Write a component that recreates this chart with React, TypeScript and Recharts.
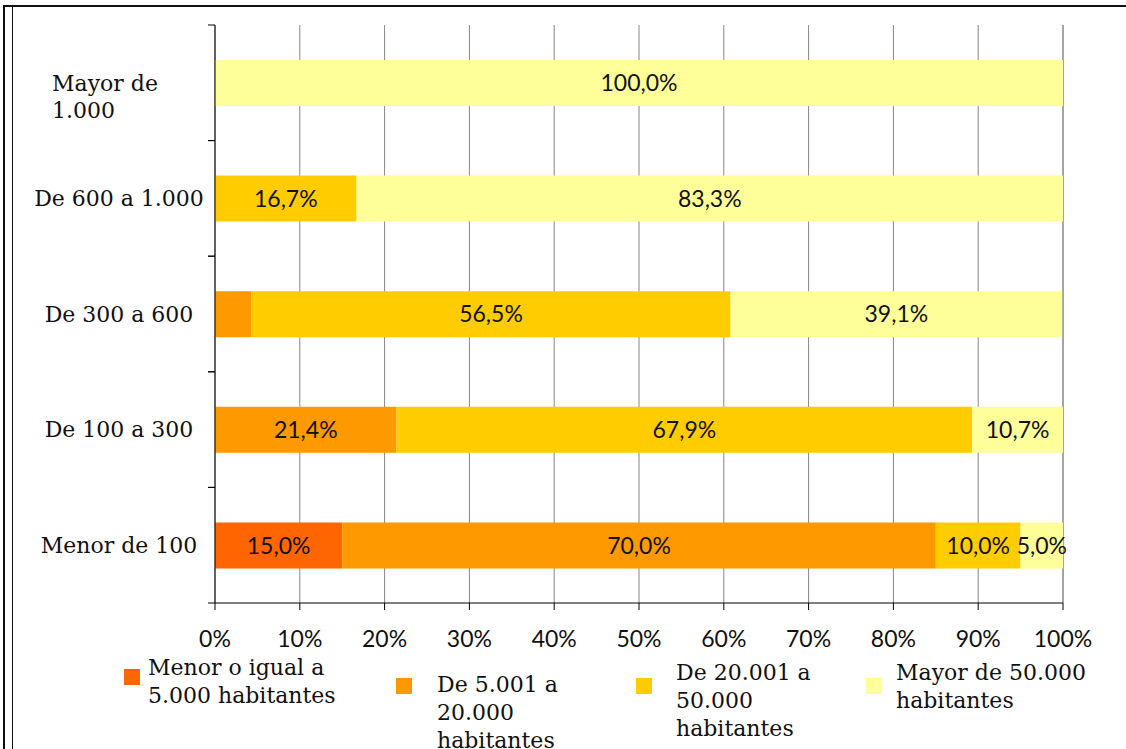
import React from 'react'
import { BarChart, Bar, XAxis, YAxis, CartesianGrid, LabelList, Legend } from 'recharts'

// Municipalities by density band (rows) split by population size (series), in %
const categories = ['Mayor de\n1.000', 'De 600 a 1.000', 'De 300 a 600', 'De 100 a 300', 'Menor de 100']
const menor5000 = [0, 0, 0, 0, 15.0]
const de5001a20000 = [0, 0, 4.3, 21.4, 70.0]
const de20001a50000 = [0, 16.7, 56.5, 67.9, 10.0]
const mayor50000 = [100.0, 83.3, 39.1, 10.7, 5.0]

const seriesKeys = ['menor5000', 'de5001a20000', 'de20001a50000', 'mayor50000']
const seriesNames = [
  'Menor o igual a 5.000 habitantes',
  'De 5.001 a 20.000 habitantes',
  'De 20.001 a 50.000 habitantes',
  'Mayor de 50.000 habitantes',
]
const legendLabels = [
  'Menor o igual a\n5.000 habitantes',
  'De 5.001 a\n20.000\nhabitantes',
  'De 20.001 a\n50.000\nhabitantes',
  'Mayor de 50.000\nhabitantes',
]
const colors = ['#FF6600', '#FF9900', '#FFCC00', '#FFFF99']
const xTicks = [0, 10, 20, 30, 40, 50, 60, 70, 80, 90, 100]

const data = categories.map((name, i) => ({
  name,
  menor5000: menor5000[i],
  de5001a20000: de5001a20000[i],
  de20001a50000: de20001a50000[i],
  mayor50000: mayor50000[i],
}))

const W = 1126
const H = 749
const MARGIN = { top: 25, right: 63, left: 0, bottom: 101 }
const X_AXIS_H = 45
const Y_AXIS_W = 215
const BAND = (H - MARGIN.top - MARGIN.bottom - X_AXIS_H) / categories.length

const serif = '"DejaVu Serif", serif'
const sans = 'Lato, "Open Sans", sans-serif'

// legend boxes are laid out by hand, the way the spreadsheet placed them
const legendPos = [
  { sx: 124, sy: 669, tx: 148, ty: 654 },
  { sx: 396, sy: 678, tx: 437, ty: 671 },
  { sx: 636, sy: 678, tx: 676, ty: 659 },
  { sx: 866, sy: 678, tx: 896, ty: 659 },
]

const fmt = (v: any) => {
  const n = Number(v)
  if (!n || n < 5) return ''
  return n.toFixed(1).replace('.', ',') + '%'
}

function CategoryTick(props: any) {
  const { x, y, payload } = props
  const lines = String(payload.value).split('\n')
  return (
    <g>
      <line x1={x - 7} x2={x} y1={y - BAND / 2} y2={y - BAND / 2} stroke="#000" />
      <line x1={x - 7} x2={x} y1={y + BAND / 2} y2={y + BAND / 2} stroke="#000" />
      {lines.length > 1 ? (
        <text x={x - 163} y={y} fontFamily={serif} fontSize={22} fill="#111" textAnchor="start">
          {lines.map((l, i) => (
            <tspan key={i} x={x - 163} dy={i === 0 ? '0.35em' : 27}>
              {l}
            </tspan>
          ))}
        </text>
      ) : (
        <text x={x - 96} y={y} dy="0.35em" fontFamily={serif} fontSize={22} fill="#111" textAnchor="middle">
          {lines[0]}
        </text>
      )}
    </g>
  )
}

function renderLegend() {
  return (
    <div style={{ position: 'relative', width: W, height: 0 }}>
      {seriesNames.map((name, i) => (
        <React.Fragment key={name}>
          <div
            style={{
              position: 'absolute',
              left: legendPos[i].sx,
              top: legendPos[i].sy - 655,
              width: 16,
              height: 16,
              background: colors[i],
            }}
          />
          <div
            style={{
              position: 'absolute',
              left: legendPos[i].tx,
              top: legendPos[i].ty - 655,
              whiteSpace: 'pre',
              fontFamily: serif,
              fontSize: 22,
              lineHeight: '28px',
              color: '#111',
            }}
          >
            {legendLabels[i]}
          </div>
        </React.Fragment>
      ))}
    </div>
  )
}

export default function App() {
  return (
    <div style={{ position: 'absolute', left: 0, top: 0, width: W, height: H, background: '#fff', overflow: 'hidden' }}>
      {/* double frame on the left and top */}
      <div
        style={{
          position: 'absolute',
          left: 3,
          top: 5,
          width: W + 10,
          height: H + 10,
          borderLeft: '2px solid #111',
          borderTop: '2px solid #111',
        }}
      />
      <div style={{ position: 'absolute', left: 12, top: 7, width: 1, height: H, background: '#111' }} />
      <BarChart
        width={W}
        height={H}
        data={data}
        layout="vertical"
        margin={MARGIN}
        barSize={46}
        style={{ position: 'absolute', left: 0, top: 0 }}
      >
        <CartesianGrid horizontal={false} stroke="#868686" />
        <XAxis
          type="number"
          domain={[0, 100]}
          ticks={xTicks}
          interval={0}
          height={X_AXIS_H}
          tickFormatter={(v) => `${v}%`}
          tick={{ fontSize: 23, fill: '#111', fontFamily: sans }}
          tickSize={7}
          tickMargin={21}
          stroke="#000"
          axisLine={{ stroke: '#000' }}
          tickLine={{ stroke: '#000' }}
        />
        <YAxis
          type="category"
          dataKey="name"
          width={Y_AXIS_W}
          interval={0}
          tickSize={0}
          tickMargin={0}
          tickLine={false}
          axisLine={{ stroke: '#000' }}
          tick={<CategoryTick />}
        />
        <Legend
          content={renderLegend}
          wrapperStyle={{ position: 'absolute', left: 0, top: 655, width: W, height: 0 }}
        />
        {seriesKeys.map((key, i) => (
          <Bar key={key} dataKey={key} name={seriesNames[i]} stackId="a" fill={colors[i]} isAnimationActive={false}>
            <LabelList
              dataKey={key}
              position="center"
              formatter={fmt}
              fill="#111"
              fontSize={23}
              fontFamily={sans}
            />
          </Bar>
        ))}
      </BarChart>
    </div>
  )
}
